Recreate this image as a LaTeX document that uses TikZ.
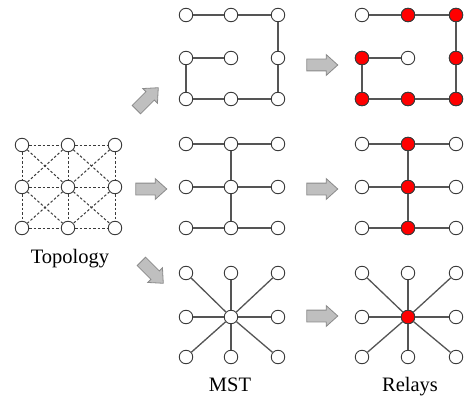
\documentclass[tikz,border=0pt]{standalone}
\usepackage{fontspec}
\setmainfont{Liberation Serif}
\usetikzlibrary{shapes.arrows}
\definecolor{vline}{HTML}{3A3A3A}
\definecolor{edgec}{HTML}{555555}
\definecolor{dashc}{HTML}{3A3A3A}
\definecolor{arrowf}{HTML}{BFBFBF}
\definecolor{arrowb}{HTML}{8A8A8A}
\definecolor{relayred}{HTML}{FF0000}
\begin{document}
\begin{tikzpicture}[x=1pt,y=-1pt,
  vtx/.style={circle,draw=vline,fill=white,line width=0.9pt,minimum size=13.5pt,inner sep=0pt},
  relay/.style={vtx,fill=relayred},
  link/.style={draw=edgec,line width=1.3pt},
  mesh/.style={draw=dashc,line width=1pt,dash pattern=on 2.5pt off 2pt},
  bigarrow/.style={single arrow,draw=arrowb,fill=arrowf,line width=0.8pt,
    minimum height=31pt,inner sep=5.5pt,single arrow head extend=4.5pt,
    single arrow tip angle=84},
  lbl/.style={anchor=base,inner sep=0pt,font=\fontsize{20.5}{24}\selectfont}]
\useasboundingbox (0,0) rectangle (468,401);

% full mesh topology
\foreach \i/\x in {0/22,1/68,2/115}
  \foreach \j/\y in {0/145,1/187,2/228}
    \node[vtx] (t\i\j) at (\x,\y) {};
\foreach \j in {0,1,2} \draw[mesh] (t0\j) -- (t1\j) (t1\j) -- (t2\j);
\foreach \i in {0,1,2} \draw[mesh] (t\i0) -- (t\i1) (t\i1) -- (t\i2);
\foreach \i/\k in {0/1,1/2}
  \foreach \j/\l in {0/1,1/2}
    \draw[mesh] (t\i\j) -- (t\k\l) (t\k\j) -- (t\i\l);
\node[lbl] (ltopo) at (70,263) {Topology};

% block arrows
\node[bigarrow,rotate=45]  (a1) at (145,101) {};
\node[bigarrow]            (a2) at (148,189) {};
\node[bigarrow,rotate=-45] (a3) at (150,270) {};
\node[bigarrow]            (b1) at (319,65) {};
\node[bigarrow]            (b2) at (319,189) {};
\node[bigarrow]            (b3) at (319,316) {};

% spanning trees (p) and relays (r): top row
\foreach \i/\x in {0/186,1/231,2/278}
  \foreach \j/\y in {0/15,1/58,2/99}
    \node[vtx] (p\i\j) at (\x,\y) {};
\foreach \i/\x in {0/362,1/408,2/456}
  \foreach \j/\y in {0/15,1/58,2/99}
    \node[vtx] (r\i\j) at (\x,\y) {};
\foreach \n in {r10,r20,r01,r21,r02,r12,r22} \node[relay] at (\n) {};
\foreach \s in {p,r}
  \draw[link] (\s00) -- (\s10) (\s10) -- (\s20) (\s20) -- (\s21) (\s21) -- (\s22)
              (\s22) -- (\s12) (\s12) -- (\s02) (\s02) -- (\s01) (\s01) -- (\s11);

% middle row
\foreach \i/\x in {0/186,1/231,2/278}
  \foreach \j/\y in {0/144,1/187,2/228}
    \node[vtx] (q\i\j) at (\x,\y) {};
\foreach \i/\x in {0/362,1/408,2/456}
  \foreach \j/\y in {0/144,1/187,2/228}
    \node[vtx] (s\i\j) at (\x,\y) {};
\foreach \n in {s10,s11,s12} \node[relay] at (\n) {};
\foreach \s in {q,s} {
  \foreach \j in {0,1,2} \draw[link] (\s0\j) -- (\s1\j) (\s1\j) -- (\s2\j);
  \draw[link] (\s10) -- (\s11) (\s11) -- (\s12);
}

% bottom row
\foreach \i/\x in {0/186,1/231,2/278}
  \foreach \j/\y in {0/273,1/317,2/357}
    \node[vtx] (u\i\j) at (\x,\y) {};
\foreach \i/\x in {0/362,1/408,2/456}
  \foreach \j/\y in {0/273,1/317,2/357}
    \node[vtx] (v\i\j) at (\x,\y) {};
\node[relay] at (v11) {};
\foreach \s in {u,v}
  \foreach \n in {00,10,20,01,21,02,12,22}
    \draw[link] (\s11) -- (\s\n);

\node[lbl] (lmst) at (230,391) {MST};
\node[lbl] (lrel) at (410,391) {Relays};
\end{tikzpicture}
\end{document}
